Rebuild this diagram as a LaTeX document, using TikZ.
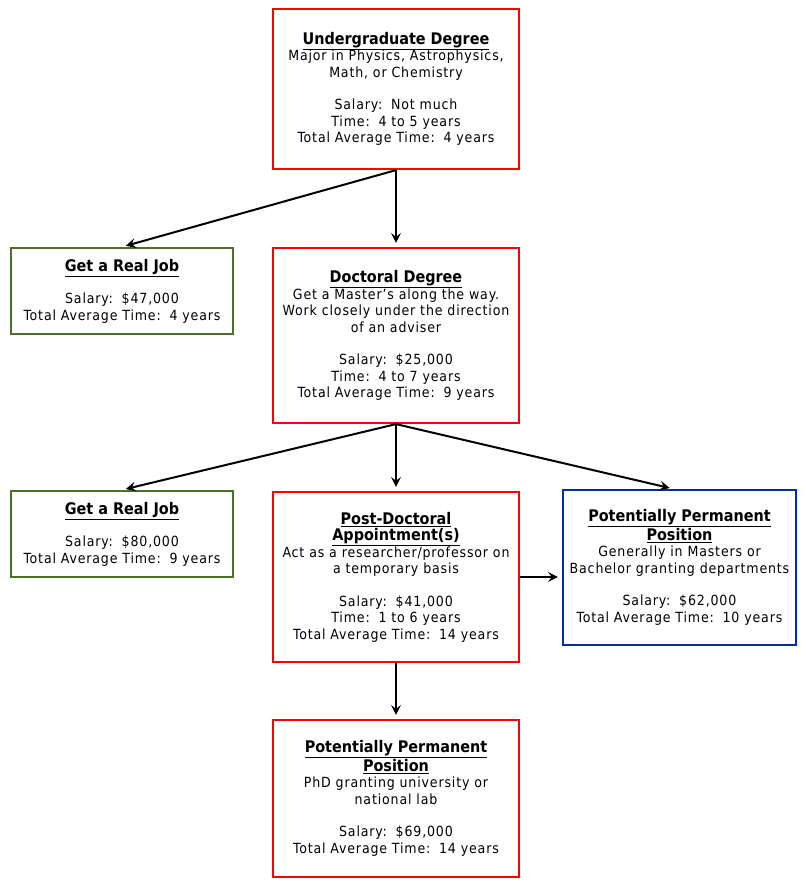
\documentclass[tikz,border=0pt]{standalone}
\usepackage{fontspec}
\setmainfont{DejaVu Sans Condensed}[LetterSpace=6]
\newfontfamily\titlefont{DejaVu Sans Condensed}
\usepackage{xcolor}
\usetikzlibrary{arrows.meta, positioning}

\definecolor{jobgreen}{RGB}{74,114,38}
\definecolor{permblue}{RGB}{0,48,160}
\newcommand{\stagetitle}[1]{{\titlefont\fontsize{16}{19}\selectfont\bfseries\underline{#1}}}

\begin{document}
\begin{tikzpicture}[
  x=1pt, y=-1pt,
  stage/.style={draw, line width=2.2pt, align=center, inner sep=0pt,
    font=\fontsize{14}{16.5}\selectfont},
  redbox/.style={stage, draw=red, minimum width=246pt},
  greenbox/.style={stage, draw=jobgreen, minimum width=222pt, minimum height=86pt},
  bluebox/.style={stage, draw=permblue, minimum width=233pt, minimum height=155pt},
  edge/.style={-{Stealth[length=10pt,width=10pt,inset=4pt]}, line width=2pt, shorten >=4pt}
]
\useasboundingbox (0,0) rectangle (806,892);

% Degrees down the middle
\node[redbox, minimum height=160pt] (ugrad) at (396,89) {\stagetitle{Undergraduate Degree}\\
  Major in Physics, Astrophysics,\\ Math, or Chemistry\\[16pt]
  Salary:\, Not much\\ Time:\, 4 to 5 years\\ Total Average Time:\, 4 years};
\node[redbox, minimum height=175pt] (phd) at (396,335.5) {\stagetitle{Doctoral Degree}\\
  Get a Master’s along the way.\\ Work closely under the direction\\ of an adviser\\[16pt]
  Salary:\, \$25,000\\ Time:\, 4 to 7 years\\ Total Average Time:\, 9 years};
\node[redbox, minimum height=170pt] (postdoc) at (396,577) {\stagetitle{Post-Doctoral}\\
  \stagetitle{Appointment(s)}\\
  Act as a researcher/professor on\\ a temporary basis\\[16pt]
  Salary:\, \$41,000\\ Time:\, 1 to 6 years\\ Total Average Time:\, 14 years};
\node[redbox, minimum height=157pt] (permB) at (396,798.5) {\stagetitle{Potentially Permanent}\\
  \stagetitle{Position}\\
  PhD granting university or\\ national lab\\[16pt]
  Salary:\, \$69,000\\ Total Average Time:\, 14 years};

% Side exits
\node[greenbox] (job1) at (122,291) {\stagetitle{Get a Real Job}\\[16pt]
  Salary:\, \$47,000\\ Total Average Time:\, 4 years};
\node[greenbox] (job2) at (122,534) {\stagetitle{Get a Real Job}\\[16pt]
  Salary:\, \$80,000\\ Total Average Time:\, 9 years};
\node[bluebox] (permA) at (679.5,567.5) {\stagetitle{Potentially Permanent}\\
  \stagetitle{Position}\\
  Generally in Masters or\\ Bachelor granting departments\\[16pt]
  Salary:\, \$62,000\\ Total Average Time:\, 10 years};

\draw[edge] (ugrad.south) -- (job1.north);
\draw[edge] (ugrad.south) -- (phd.north);
\draw[edge] (phd.south) -- (job2.north);
\draw[edge] (phd.south) -- (postdoc.north);
\draw[edge] (phd.south) -- ([xshift=-6pt]permA.north);
\draw[edge] (postdoc.east) -- (postdoc.east -| permA.west);
\draw[edge] (postdoc.south) -- (permB.north);
\end{tikzpicture}
\end{document}
